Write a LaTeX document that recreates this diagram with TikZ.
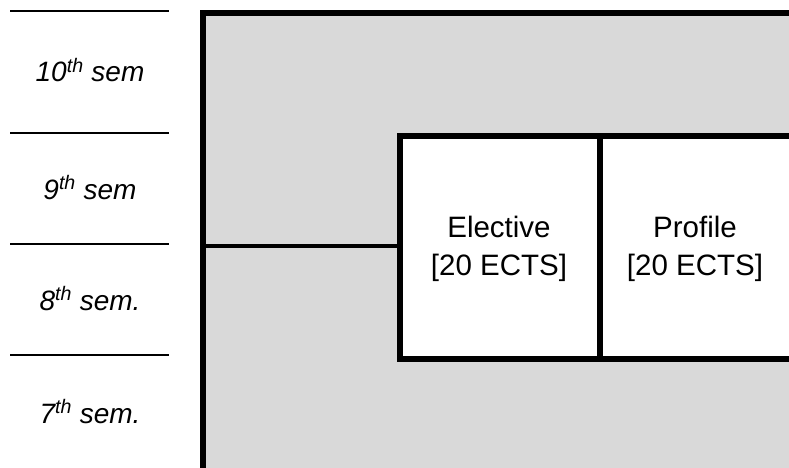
\documentclass[tikz,border=0pt]{standalone}
\usepackage{fontspec}
\setmainfont{Liberation Sans}
\usepackage{xcolor}
\definecolor{panelgray}{HTML}{D9D9D9}

\begin{document}
\begin{tikzpicture}[x=1pt, y=-1pt,
    semline/.style={line width=2pt},
    wall/.style={line width=6pt, line join=miter},
    semlabel/.style={font=\fontsize{28}{34}\selectfont\itshape, anchor=base},
    course/.style={font=\fontsize{29.5}{38}\selectfont, align=center}
]
\useasboundingbox (0,0) rectangle (789,468);

% shaded plan and white course block
\fill[panelgray] (203,13) rectangle (789,468);
\fill[white] (400,136) rectangle (789,359);

% semester rules
\foreach \y in {11,133,244,355}
    \draw[semline] (10,\y) -- (169,\y);

% semester labels
\node[semlabel] (sem10) at (90,82)  {10\textsuperscript{th} sem};
\node[semlabel] (sem9)  at (90,199) {9\textsuperscript{th} sem};
\node[semlabel] (sem8)  at (90,310) {8\textsuperscript{th} sem.};
\node[semlabel] (sem7)  at (90,423) {7\textsuperscript{th} sem.};

% walls
\draw[wall] (203,468) -- (203,13) -- (789,13);
\draw[line width=4.5pt] (203,246) -- (400,246);
\draw[wall] (789,136) -- (400,136) -- (400,359) -- (789,359);
\draw[wall] (600,136) -- (600,359);

% courses
\node[course] (elective) at (499,249) {Elective\\{}[20 ECTS]};
\node[course] (profile)  at (695,249) {Profile\\{}[20 ECTS]};
\end{tikzpicture}
\end{document}
